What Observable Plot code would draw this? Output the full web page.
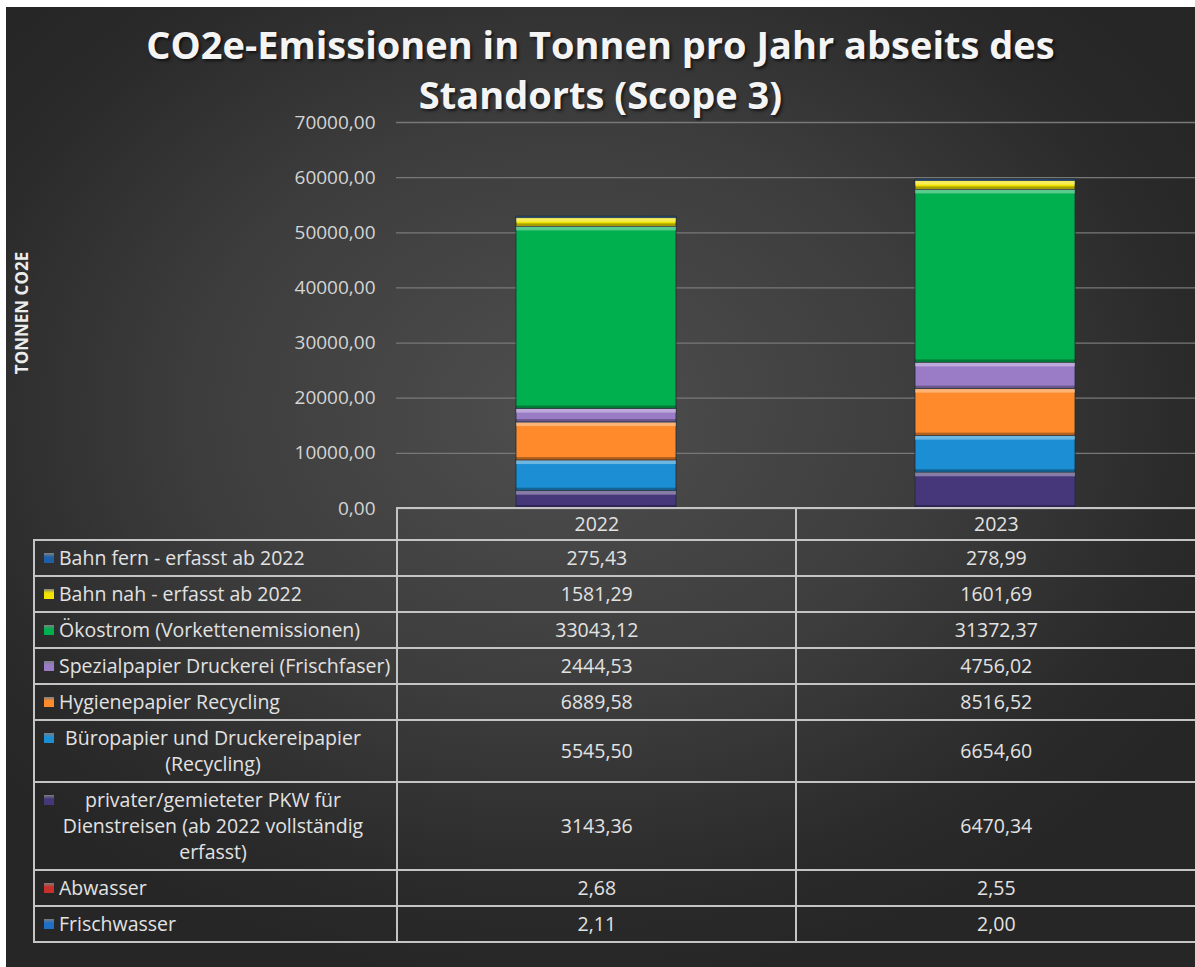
<!DOCTYPE html>
<html><head><meta charset="utf-8">
<script src="https://cdn.jsdelivr.net/npm/d3@7"></script>
<script src="https://cdn.jsdelivr.net/npm/@observablehq/plot@0.6"></script>
<style>
html,body{margin:0;padding:0;background:#fff;}
#frame{position:absolute;left:6px;top:7px;width:1189px;height:960px;overflow:hidden;
  background: radial-gradient(ellipse 62% 60% at 47% 42%, #4e4e4e 0%, #3d3d3d 50%, #2a2a2a 85%, #262626 100%);
  font-family:"Open Sans",sans-serif;}
#title{position:absolute;left:0;top:12px;width:100%;text-align:center;color:#f4f4f4;font-weight:700;font-size:38px;line-height:50px;text-shadow:2px 2px 3px rgba(0,0,0,.6);}
#ylabel{position:absolute;left:15px;top:306px;transform:translate(-50%,-50%) rotate(-90deg);white-space:nowrap;color:#ececec;font-weight:700;font-size:17px;}
#chart{position:absolute;left:0;top:103px;}
#tbl{position:absolute;border-collapse:collapse;color:#e2e2e2;font-size:19.5px;line-height:26px;}
#tbl td{border:2px solid #c4c4c4;padding:4px 0;text-align:center;vertical-align:middle;}
#tbl tr.head td{padding:2px 0;}
#tbl td.lab{position:relative;text-align:left;}
#tbl td.blank{border-top:none;border-left:none;}
#tbl td.last{border-right:none;}
.mk{position:absolute;left:9px;top:12px;width:10px;height:10px;}
.txt{display:block;margin-left:24px;white-space:nowrap;}
.txt.wrap{white-space:normal;text-align:center;width:312px;margin-left:22px;}
</style>
</head><body>
<div id="frame">
  <div id="title">CO2e-Emissionen in Tonnen pro Jahr abseits des<br>Standorts (Scope 3)</div>
  <div id="ylabel">TONNEN CO2E</div>
  <div id="chart"></div>
</div>
<script>
const years = ["2022", "2023"];
const series = [
  "Bahn fern - erfasst ab 2022",
  "Bahn nah - erfasst ab 2022",
  "Ökostrom (Vorkettenemissionen)",
  "Spezialpapier Druckerei (Frischfaser)",
  "Hygienepapier Recycling",
  "Büropapier und Druckereipapier (Recycling)",
  "privater/gemieteter PKW für Dienstreisen (ab 2022 vollständig erfasst)",
  "Abwasser",
  "Frischwasser"
];
const values2022 = [275.43, 1581.29, 33043.12, 2444.53, 6889.58, 5545.50, 3143.36, 2.68, 2.11];
const values2023 = [278.99, 1601.69, 31372.37, 4756.02, 8516.52, 6654.60, 6470.34, 2.55, 2.00];
const colors = ["#1f5fa8", "#f2e400", "#00b04f", "#9a7cc6", "#ff8a2b", "#1c8fd4", "#46377a", "#c8302c", "#1f6fc5"];
const yTicks = [0, 10000, 20000, 30000, 40000, 50000, 60000, 70000];

const fmt = v => v.toFixed(2).replace(".", ",");
const valuesByYear = [values2022, values2023];

// stacked rows (bottom of stack = last series)
const rows = [];
years.forEach((yr, j) => {
  const vals = valuesByYear[j];
  let acc = 0;
  for (let i = series.length - 1; i >= 0; i--) {
    rows.push({year: yr, series: series[i], value: vals[i], y1: acc, y2: acc + vals[i]});
    acc += vals[i];
  }
});
const big = rows.filter(d => d.value > 1000);

const plot = Plot.plot({
  width: 1189, height: 400,
  marginTop: 12, marginBottom: 2, marginLeft: 390, marginRight: 0,
  style: {background: "transparent", color: "#d4d4d4", fontFamily: "Open Sans", fontSize: "19px", overflow: "visible"},
  x: {domain: years, paddingInner: 0.6, paddingOuter: 0.3, axis: null},
  y: {domain: [0, 70000], ticks: yTicks, tickFormat: fmt, tickSize: 0, tickPadding: 21, label: null},
  color: {domain: series, range: colors},
  marks: [
    Plot.ruleY(yTicks, {stroke: "#787878", strokeWidth: 1.3}),
    Plot.barY(rows, {x: "year", y1: "y1", y2: "y2", fill: "series", stroke: "#1d2b33", strokeWidth: 0.8}),
    Plot.barY(big, {x: "year", y1: "y2", y2: "y2", insetBottom: -4, fill: "white", fillOpacity: 0.35}),
    Plot.barY(big, {x: "year", y1: "y1", y2: "y1", insetTop: -3, fill: "black", fillOpacity: 0.3})
  ]
});
document.getElementById("chart").appendChild(plot);

// data table aligned to the x scale
const xs = plot.scale("x");
const step = xs.step;
const colLeft = xs.apply(years[0]) - xs.paddingInner * step / 2;
const tbl = document.createElement("table");
tbl.id = "tbl";
const tableLeft = 27;
tbl.style.left = tableLeft + "px";
tbl.style.top = (103 + plot.scale("y").apply(0) - 1) + "px";
const colg = document.createElement("colgroup");
[colLeft - tableLeft, step, step].forEach(w => {
  const c = document.createElement("col"); c.style.width = w + "px"; colg.appendChild(c);
});
tbl.appendChild(colg);
tbl.style.width = (colLeft - tableLeft + 2 * step) + "px";
tbl.style.tableLayout = "fixed";

const hr = document.createElement("tr"); hr.className = "head";
const blank = document.createElement("td"); blank.className = "blank"; hr.appendChild(blank);
years.forEach((y, j) => {
  const td = document.createElement("td"); td.textContent = y;
  if (j === years.length - 1) td.className = "last";
  hr.appendChild(td);
});
tbl.appendChild(hr);

const cv = document.createElement("canvas").getContext("2d");
cv.font = "19.5px 'Open Sans'";
series.forEach((s, i) => {
  const tr = document.createElement("tr");
  const lab = document.createElement("td"); lab.className = "lab";
  const mk = document.createElement("span"); mk.className = "mk";
  mk.style.background = `linear-gradient(180deg, rgba(255,255,255,0.4) 0%, ${colors[i]} 40%, ${colors[i]} 100%)`;
  lab.appendChild(mk);
  const t = document.createElement("span");
  t.className = "txt" + (cv.measureText(s).width > 340 ? " wrap" : "");
  t.textContent = s;
  lab.appendChild(t);
  tr.appendChild(lab);
  years.forEach((y, j) => {
    const td = document.createElement("td"); td.textContent = fmt(valuesByYear[j][i]);
    if (j === years.length - 1) td.className = "last";
    tr.appendChild(td);
  });
  tbl.appendChild(tr);
});
document.getElementById("frame").appendChild(tbl);
</script>
</body></html>
